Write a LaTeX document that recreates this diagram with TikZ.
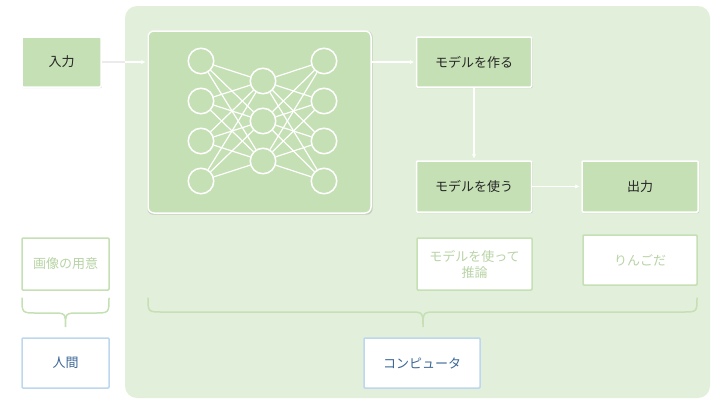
\documentclass[tikz,border=0pt]{standalone}
\usepackage{fontspec}
\setmainfont{Noto Sans CJK JP}
\usetikzlibrary{arrows.meta,shadows}
\definecolor{panelgreen}{HTML}{E2EFDA}
\definecolor{boxgreen}{HTML}{C5E0B4}
\definecolor{fadetext}{HTML}{B8D4A6}
\definecolor{humanblue}{HTML}{BDD7EE}
\definecolor{humantext}{HTML}{3B6796}
\begin{document}
\begin{tikzpicture}[x=1pt, y=-1pt,
	every node/.style={font=\fontsize{13}{16}\selectfont, inner sep=0pt, align=center},
	stepbox/.style={rectangle, fill=boxgreen, draw=white, line width=1.5pt, rounded corners=1pt, text=black!85,
		drop shadow={opacity=0.3, shadow xshift=0.5pt, shadow yshift=-0.8pt, shadow scale=1.01}},
	fadebox/.style={rectangle, fill=white, draw=boxgreen, line width=1.5pt, rounded corners=1pt, text=fadetext},
	whobox/.style={rectangle, fill=white, draw=humanblue, line width=1.5pt, rounded corners=1pt, text=humantext},
	neuron/.style={circle, draw=white, line width=1.5pt, minimum size=25.5pt},
	flow/.style={white, line width=1.3pt, shorten >=1.5pt, -{Latex[length=4.5pt,width=4.5pt]}},
	brace/.style={boxgreen, line width=1.5pt, line cap=round}]
	\useasboundingbox (0,0) rectangle (720,405);
	\fill[panelgreen, rounded corners=12pt] (125,6) rectangle (710,398);
	% top row
	\node[stepbox, minimum width=79pt, minimum height=50pt] at (61.5,62) (input) {入力};
	\node[stepbox, minimum width=223pt, minimum height=182pt, rounded corners=6pt] at (259.5,122) (net) {};
	\node[stepbox, minimum width=115pt, minimum height=50pt] at (474,62) (make) {モデルを作る};
	\node[stepbox, minimum width=115pt, minimum height=51pt] at (474,186.5) (use) {モデルを使う};
	\node[stepbox, minimum width=116pt, minimum height=51pt] at (640,186.5) (output) {出力};
	% neural net
	\foreach \i in {1,...,4} {
		\node[neuron] at (201,{21+40*\i}) (L\i) {};
		\node[neuron] at (324,{21+40*\i}) (R\i) {};
	}
	\foreach \j in {1,2,3}
		\node[neuron] at (263,{41+40*\j}) (M\j) {};
	\foreach \i in {1,...,4}
		\foreach \j in {1,2,3} {
			\draw[white, line width=1.2pt] (L\i) -- (M\j);
			\draw[white, line width=1.2pt] (M\j) -- (R\i);
		}
	\draw[flow] (input) -- (net.west |- input);
	\draw[black!8, line width=1.3pt] (input.east) -- (125,62);
	\draw[flow] (net.east |- make) -- (make);
	\draw[flow] (make) -- (use);
	\draw[flow] (use) -- (output);
	% bottom row
	\node[fadebox, minimum width=87pt, minimum height=52pt] at (65.5,264) (prep) {画像の用意};
	\node[fadebox, minimum width=115pt, minimum height=52pt] at (474.5,264) (infer) {モデルを使って\\推論};
	\node[fadebox, minimum width=114pt, minimum height=50pt] at (640,260) (apple) {りんごだ};
	\node[whobox, minimum width=87pt, minimum height=50pt] at (65.5,363) (human) {人間};
	\node[whobox, minimum width=116pt, minimum height=50pt] at (422,363) (computer) {コンピュータ};
	% braces
	\draw[brace] (22,298) .. controls (22,313) .. (37,313) -- (52,313)
		.. controls (65.5,313) .. (65.5,327) .. controls (65.5,313) .. (79,313)
		-- (94,313) .. controls (109,313) .. (109,298);
	\draw[brace] (148,298) .. controls (148,312) .. (163,312) -- (409,312)
		.. controls (423,312) .. (423,327) .. controls (423,312) .. (437,312)
		-- (682,312) .. controls (697,312) .. (697,298);
\end{tikzpicture}
\end{document}
